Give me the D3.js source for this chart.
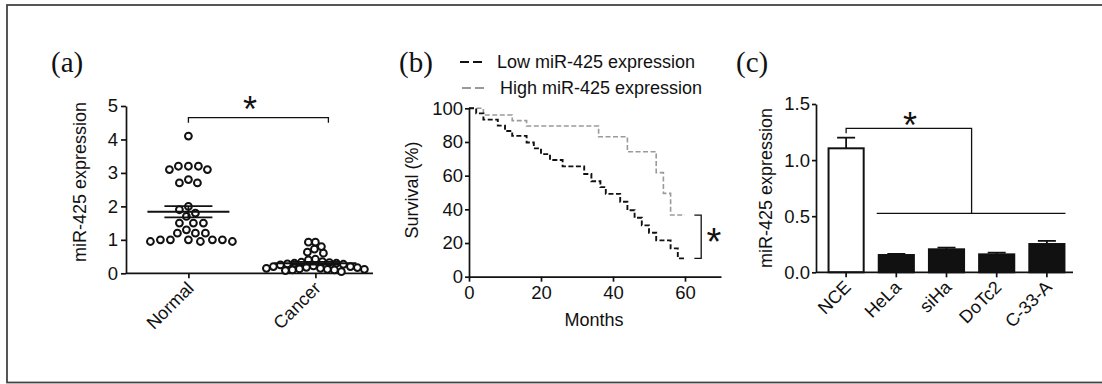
<!DOCTYPE html>
<html><head><meta charset="utf-8">
<script src="https://cdn.jsdelivr.net/npm/d3@7"></script>
<style>
html,body{margin:0;padding:0;background:#fff;}
svg{display:block;font-family:"Liberation Sans",Arial,sans-serif;}
</style></head><body>
<svg id="chart" width="1102" height="384"></svg>
<script>
// ---------- Data ----------
// (a) scatter dot plot
const groupsA = ["Normal", "Cancer"];
const normalValues = [4.1, 3.2, 3.2, 3.1, 3.1, 3.2, 2.7, 2.7, 2.8, 2.0, 1.9, 1.8, 1.7,
  1.5, 1.5, 1.5, 1.3, 1.2, 1.2, 1.2, 1.0, 1.0, 0.95, 0.95, 0.95, 1.0, 1.0, 1.0];
const cancerValues = [0.93, 0.93, 0.8, 0.72, 0.63, 0.6, 0.42, 0.4, 0.35, 0.33, 0.32, 0.3,
  0.3, 0.28, 0.27, 0.25, 0.22, 0.2, 0.2, 0.18, 0.17, 0.15, 0.15, 0.13, 0.12, 0.12, 0.1,
  0.1, 0.08, 0.05];
const meanA = [1.84, 0.30];
const semA = [0.17, 0.04];
const yTicksA = [0, 1, 2, 3, 4, 5];

// (b) survival curves
const seriesB = ["Low miR-425 expression", "High miR-425 expression"];
const lowMonths = [0, 2, 4, 8, 10, 12, 16, 18, 20, 22.5, 26, 32, 34, 36.5, 38, 42, 44, 46, 48, 50, 52, 56, 58, 60];
const lowSurvival = [100, 97, 93.3, 89.7, 86.5, 83.6, 79.7, 76.2, 72.8, 69.3, 65.5, 61, 56.7, 53.2, 49.2, 44.5, 39.5, 35, 30.5, 26.1, 21.6, 16.8, 10.9, 10.9];
const highMonths = [0, 4, 12, 16, 36, 44, 52, 54, 56, 60];
const highSurvival = [100, 96, 92.7, 89.5, 83.1, 74.2, 61.8, 49.5, 36.6, 36.6];
const xTicksB = [0, 20, 40, 60];
const yTicksB = [0, 20, 40, 60, 80, 100];

// (c) bar chart
const cellLines = ["NCE", "HeLa", "siHa", "DoTc2", "C-33-A"];
const expressionC = [1.105, 0.154, 0.205, 0.16, 0.252];
const errorC = [0.095, 0.01, 0.015, 0.015, 0.028];
const yTicksC = [0.0, 0.5, 1.0, 1.5];

// ---------- Drawing ----------
const svg = d3.select("#chart");
const ink = "#111";
const AX_W = 1.7;
const TICK_FS = 18.5;

// border
svg.append("rect").attr("x", 7).attr("y", 5).attr("width", 1100).attr("height", 377.5)
  .attr("fill", "none").attr("stroke", "#444").attr("stroke-width", 1.8);

function styleAxis(g, size) {
  g.attr("color", ink);
  g.selectAll("path.domain").attr("stroke-width", AX_W);
  g.selectAll(".tick line").attr("stroke-width", AX_W);
  g.selectAll("text").attr("font-size", size).attr("font-family", "'Liberation Sans', Arial, sans-serif").attr("fill", ink);
}
function panelLetter(x, y, t) {
  svg.append("text").attr("x", x).attr("y", y).text(t)
    .attr("font-family", "'Liberation Serif','Times New Roman',serif").attr("font-size", 29).attr("fill", ink);
}
function star(x, y, size) {
  svg.append("text").attr("x", x).attr("y", y).text("*").attr("text-anchor", "middle")
    .attr("font-size", size).attr("font-family", "'Liberation Sans', Arial, sans-serif").attr("fill", ink);
}
function yLabel(x, y, t) {
  svg.append("text").attr("transform", `translate(${x},${y}) rotate(-90)`).attr("text-anchor", "middle")
    .attr("font-size", 18).attr("fill", ink).text(t);
}

// ===== Panel (a) =====
const A = {left: 126, right: 373, top: 106, bottom: 273.3};
const yA = d3.scaleLinear().domain([0, 5]).range([A.bottom, A.top]);
const xA = d3.scalePoint().domain(groupsA).range([A.left, A.right]).padding(0.4725).align(0.52);

const gyA = svg.append("g").attr("transform", `translate(${A.left},0)`)
  .call(d3.axisLeft(yA).tickValues(yTicksA).tickFormat(d3.format("d")).tickSize(5).tickPadding(3).tickSizeOuter(0));
styleAxis(gyA, TICK_FS);
const gxA = svg.append("g").attr("transform", `translate(0,${A.bottom})`)
  .call(d3.axisBottom(xA).tickSize(5).tickSizeOuter(0));
styleAxis(gxA, 18);
gxA.select("path.domain").attr("d", `M${A.left},0H${A.right}`);
gxA.selectAll(".tick text").attr("text-anchor", "end").attr("dy", null)
  .attr("transform", "translate(6,16) rotate(-45)").attr("y", 0).attr("x", 0);

function swarm(values, cx, minDist, step) {
  const pts = values.map(v => ({v, y: yA(v)})).sort((a, b) => a.y - b.y);
  const placed = [];
  for (const p of pts) {
    for (let k = 0; k < 400; k++) {
      const off = (k % 2 === 0 ? 1 : -1) * Math.ceil(k / 2) * step;
      const x = cx + off;
      if (placed.every(q => (q.x - x) ** 2 + (q.y - p.y) ** 2 >= minDist * minDist)) {
        p.x = x; placed.push(p); break;
      }
    }
  }
  return placed;
}
const swarmDist = [9.5, 6.8];
const swarmData = [normalValues, cancerValues].map((vals, i) => swarm(vals, xA(groupsA[i]), swarmDist[i], 1));
swarmData.forEach(pts => {
  svg.append("g").selectAll("circle").data(pts).join("circle")
    .attr("cx", d => d.x).attr("cy", d => d.y).attr("r", 3.4)
    .attr("fill", "#fff").attr("stroke", ink).attr("stroke-width", 2);
});
groupsA.forEach((g, i) => {
  const cx = xA(g);
  const gg = svg.append("g").attr("stroke", ink).attr("stroke-width", 1.8);
  gg.append("line").attr("x1", cx - 41).attr("x2", cx + 41).attr("y1", yA(meanA[i])).attr("y2", yA(meanA[i]));
  gg.append("line").attr("x1", cx - 24).attr("x2", cx + 24).attr("y1", yA(meanA[i] + semA[i])).attr("y2", yA(meanA[i] + semA[i]));
  gg.append("line").attr("x1", cx - 24).attr("x2", cx + 24).attr("y1", yA(meanA[i] - semA[i])).attr("y2", yA(meanA[i] - semA[i]));
  gg.append("line").attr("x1", cx).attr("x2", cx).attr("y1", yA(meanA[i] + semA[i])).attr("y2", yA(meanA[i] - semA[i]));
});
// significance bracket
const brA = yA(4.65);
svg.append("path").attr("fill", "none").attr("stroke", ink).attr("stroke-width", 1.3)
  .attr("d", `M${xA("Normal")},${brA + 5}V${brA}H${xA("Cancer") + 13}V${brA + 5}`);
star(250, 122, 36);
yLabel(86, 182, "miR-425 expression");
panelLetter(51, 72, "(a)");

// ===== Panel (b) =====
const B = {left: 469, right: 721, top: 108.3, bottom: 276.7};
const xB = d3.scaleLinear().domain([0, 70]).range([B.left, B.right]);
const yB = d3.scaleLinear().domain([0, 100]).range([B.bottom, B.top]);
const gyB = svg.append("g").attr("transform", `translate(${B.left},0)`)
  .call(d3.axisLeft(yB).tickValues(yTicksB).tickSize(4).tickPadding(2).tickSizeOuter(0));
styleAxis(gyB, TICK_FS);
const gxB = svg.append("g").attr("transform", `translate(0,${B.bottom})`)
  .call(d3.axisBottom(xB).tickValues(xTicksB).tickSize(5).tickPadding(4).tickSizeOuter(0));
styleAxis(gxB, TICK_FS);

const stepLine = d3.line().x(d => xB(d[0])).y(d => yB(d[1])).curve(d3.curveStepAfter);
svg.append("path").datum(d3.zip(highMonths, highSurvival)).attr("d", stepLine)
  .attr("fill", "none").attr("stroke", "#9a9a9a").attr("stroke-width", 1.6).attr("stroke-dasharray", "5,2.5");
svg.append("path").datum(d3.zip(lowMonths, lowSurvival)).attr("d", stepLine)
  .attr("fill", "none").attr("stroke", ink).attr("stroke-width", 1.9).attr("stroke-dasharray", "5,2.5");

// bracket between final values
const endLow = yB(lowSurvival[lowSurvival.length - 1]), endHigh = yB(highSurvival[highSurvival.length - 1]);
svg.append("path").attr("fill", "none").attr("stroke", ink).attr("stroke-width", 1.3)
  .attr("d", `M${xB(62.6)},${endHigh}H${xB(64.5)}V${endLow}H${xB(62.6)}`);
star(714, 255, 38);

// legend
const legY = [62, 88];
const legColors = [ink, "#9a9a9a"];
seriesB.forEach((s, i) => {
  svg.append("line").attr("x1", 460 + i * 2).attr("x2", 484 + i * 2).attr("y1", legY[i]).attr("y2", legY[i])
    .attr("stroke", legColors[i]).attr("stroke-width", 1.8).attr("stroke-dasharray", "9,4");
  svg.append("text").attr("x", 497 + i * 3).attr("y", legY[i] + 5.5).attr("font-size", 18).attr("fill", ink).text(s);
});
yLabel(418, 190, "Survival (%)");
svg.append("text").attr("x", (B.left + B.right) / 2 - 1).attr("y", 326).attr("text-anchor", "middle")
  .attr("font-size", 18).attr("fill", ink).text("Months");
panelLetter(399, 72, "(b)");

// ===== Panel (c) =====
const C = {left: 816, right: 1073, top: 104, bottom: 272.3};
const yC = d3.scaleLinear().domain([0, 1.5]).range([C.bottom, C.top]);
const xC = d3.scaleBand().domain(cellLines).range([C.left, C.left + 261]).paddingInner(0.3).paddingOuter(0.25);
const bw = xC.bandwidth();

const gyC = svg.append("g").attr("transform", `translate(${C.left},0)`)
  .call(d3.axisLeft(yC).tickValues(yTicksC).tickFormat(d3.format(".1f")).tickSize(4).tickPadding(2).tickSizeOuter(0));
styleAxis(gyC, TICK_FS);

// bars
svg.append("g").selectAll("rect").data(cellLines).join("rect")
  .attr("x", d => xC(d)).attr("width", bw)
  .attr("y", (d, i) => yC(expressionC[i])).attr("height", (d, i) => C.bottom - yC(expressionC[i]))
  .attr("fill", (d, i) => i === 0 ? "#fff" : ink).attr("stroke", ink).attr("stroke-width", 2);
// error bars
const eb = svg.append("g").attr("stroke", ink).attr("stroke-width", 1.8);
cellLines.forEach((c, i) => {
  const cx = xC(c) + bw / 2;
  eb.append("line").attr("x1", cx).attr("x2", cx).attr("y1", yC(expressionC[i])).attr("y2", yC(expressionC[i] + errorC[i]));
  eb.append("line").attr("x1", cx - 9).attr("x2", cx + 9).attr("y1", yC(expressionC[i] + errorC[i])).attr("y2", yC(expressionC[i] + errorC[i]));
});

const gxC = svg.append("g").attr("transform", `translate(0,${C.bottom})`)
  .call(d3.axisBottom(xC).tickSize(5).tickSizeOuter(0));
styleAxis(gxC, 18);
gxC.select("path.domain").attr("d", `M${C.left},0H${C.right}`);
gxC.selectAll(".tick text").attr("text-anchor", "end").attr("dy", null)
  .attr("transform", "translate(6,16) rotate(-45)").attr("y", 0).attr("x", 0);

// significance bracket
const cNCE = xC("NCE") + bw / 2;
const cMid = (xC("siHa") + xC("DoTc2") + bw) / 2;
const topBr = yC(1.283), lowBr = yC(0.525);
svg.append("path").attr("fill", "none").attr("stroke", ink).attr("stroke-width", 1.3)
  .attr("d", `M${cNCE},${topBr + 5}V${topBr}H${cMid}V${lowBr}`);
svg.append("line").attr("x1", xC("HeLa") - 2).attr("x2", xC("C-33-A") + bw + 1).attr("y1", lowBr).attr("y2", lowBr)
  .attr("stroke", ink).attr("stroke-width", 1.3);
star(910, 138, 36);
yLabel(772, 188, "miR-425 expression");
panelLetter(736, 72, "(c)");
</script>
</body></html>
